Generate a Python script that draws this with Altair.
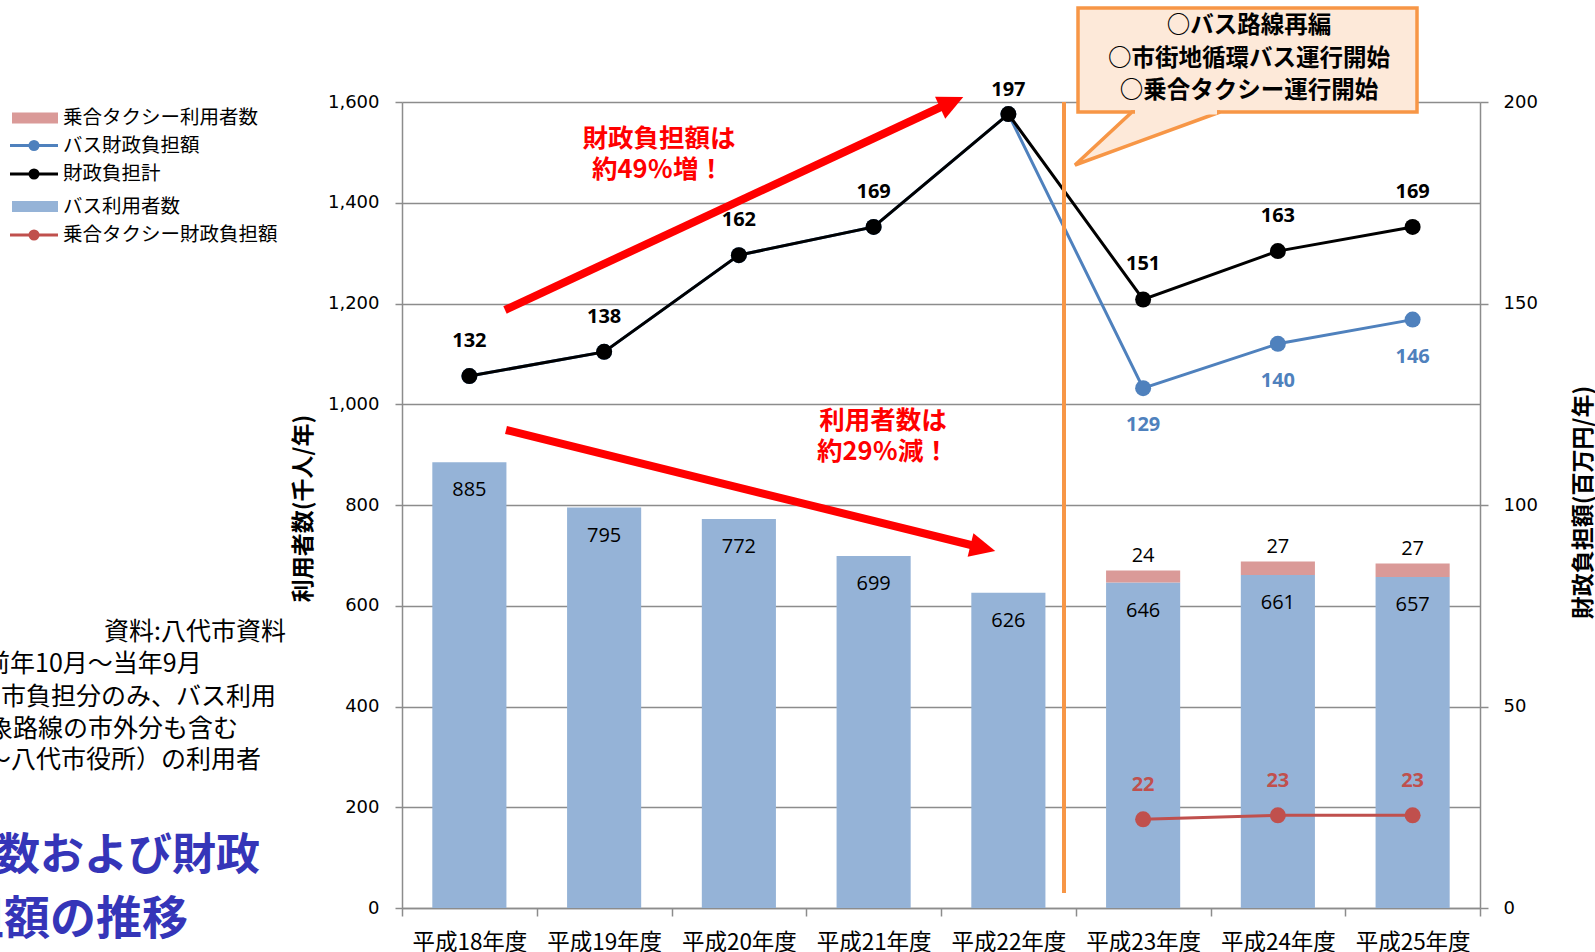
import altair as alt
import pandas as pd

# ---------------- data ----------------
years = ["平成18年度", "平成19年度", "平成20年度", "平成21年度",
         "平成22年度", "平成23年度", "平成24年度", "平成25年度"]
bus_users = [885, 795, 772, 699, 626, 646, 661, 657]
taxi_users = [None, None, None, None, None, 24, 27, 27]
bus_cost = [132, 138, 162, 169, 197, 129, 140, 146]
total_cost = [132, 138, 162, 169, 197, 151, 163, 169]
taxi_cost = [None, None, None, None, None, 22, 23, 23]

legend_labels = ["乗合タクシー利用者数", "バス財政負担額", "財政負担計",
                 "バス利用者数", "乗合タクシー財政負担額"]
callout_lines = ["○バス路線再編", "○市街地循環バス運行開始", "○乗合タクシー運行開始"]
note_right = "資料:八代市資料"
note_lines = ["前年10月～当年9月", "市負担分のみ、バス利用",
              "象路線の市外分も含む", "～八代市役所）の利用者"]
big_title = ["数および財政", "担額の推移"]
up_text = ["財政負担額は", "約49％増！"]
down_text = ["利用者数は", "約29％減！"]

df = pd.DataFrame({
    "year": years, "bus_users": bus_users, "taxi_users": taxi_users,
    "bus_cost": bus_cost, "total_cost": total_cost, "taxi_cost": taxi_cost,
})
df["stack_top"] = df["bus_users"] + df["taxi_users"]

# ---------------- style ----------------
JP = "Noto Sans CJK JP"
NUM = "Open Sans"
GRID = "#8C8C8C"
BAR_BLUE = "#95B3D7"
BAR_PINK = "#DA9A98"
LINE_BLUE = "#4F81BD"
LINE_RED = "#C0504D"
ORANGE = "#F79646"
PEACH = "#FDE9D9"

W, H = 1078, 806
PL, PT = 402, 102

xenc = alt.X("year:N", sort=years, scale=alt.Scale(paddingInner=0, paddingOuter=0),
             axis=alt.Axis(title=None, tickBand="extent", labelAngle=0, labelFont=JP,
                           labelFontSize=22.5, labelColor="black", domainColor=GRID,
                           domainWidth=1.5, tickColor=GRID, tickWidth=1.5, tickSize=8,
                           labelPadding=26, labelBaseline="middle", labelOverlap=False,
                           labelLimit=300))


def yleft(field):
    return alt.Y(f"{field}:Q", scale=alt.Scale(domain=[0, 1600], nice=False),
                 axis=alt.Axis(orient="left", values=list(range(0, 1601, 200)), format=",d",
                               grid=True, gridColor=GRID, gridWidth=1.5, domainColor=GRID,
                               domainWidth=1.5, tickColor=GRID, tickWidth=1.5, tickSize=7,
                               labelPadding=16, labelFont="DejaVu Sans", labelFontSize=18,
                               labelColor="black", title="利用者数(千人/年)", titleFont=JP,
                               titleFontSize=23, titleFontWeight="bold", titleColor="black",
                               titleAngle=270, titleX=-99, titleY=406, titleAlign="center",
                               titleBaseline="middle"))


def yright(field):
    return alt.Y(f"{field}:Q", scale=alt.Scale(domain=[0, 200], nice=False),
                 axis=alt.Axis(orient="right", values=list(range(0, 201, 50)), grid=False,
                               domainColor=GRID, domainWidth=1.5, tickColor=GRID, tickWidth=1.5,
                               tickSize=8, labelPadding=15, labelFont="DejaVu Sans",
                               labelFontSize=18, labelColor="black",
                               title="財政負担額(百万円/年)", titleFont=JP, titleFontSize=23,
                               titleFontWeight="bold", titleColor="black", titleAngle=270,
                               titleX=103, titleY=400, titleAlign="center",
                               titleBaseline="middle"))


def px(field):
    return alt.X(f"{field}:Q", scale=None, axis=None)


def py(field):
    return alt.Y(f"{field}:Q", scale=None, axis=None)


base = alt.Chart(df)
bw = alt.RelativeBandSize(0.55)

# ---------------- bars (left axis) ----------------
bars_bus = base.mark_bar(color=BAR_BLUE, width=bw).encode(x=xenc, y=yleft("bus_users"))
bars_taxi = base.mark_bar(color=BAR_PINK, width=bw).encode(
    x=xenc, y=yleft("bus_users"), y2="stack_top:Q"
).transform_filter("isValid(datum.taxi_users)")
lab_bus = base.mark_text(dy=28, font=NUM, fontSize=20, color="black").encode(
    x=xenc, y=yleft("bus_users"), text="bus_users:Q")
lab_taxi = base.mark_text(dy=-14, font=NUM, fontSize=20, color="black").encode(
    x=xenc, y=yleft("stack_top"), text="taxi_users:Q"
).transform_filter("isValid(datum.taxi_users)")
left_layer = alt.layer(bars_bus, bars_taxi, lab_bus, lab_taxi)

# ---------------- lines (right axis) ----------------
l_blue = base.mark_line(color=LINE_BLUE, strokeWidth=3).encode(x=xenc, y=yright("bus_cost"))
p_blue = base.mark_circle(color=LINE_BLUE, size=256, opacity=1).encode(x=xenc, y=yright("bus_cost"))
l_black = base.mark_line(color="black", strokeWidth=3).encode(x=xenc, y=yright("total_cost"))
p_black = base.mark_circle(color="black", size=256, opacity=1).encode(x=xenc, y=yright("total_cost"))
l_red = base.mark_line(color=LINE_RED, strokeWidth=3).encode(
    x=xenc, y=yright("taxi_cost")).transform_filter("isValid(datum.taxi_cost)")
p_red = base.mark_circle(color=LINE_RED, size=256, opacity=1).encode(
    x=xenc, y=yright("taxi_cost")).transform_filter("isValid(datum.taxi_cost)")
t_black = base.mark_text(dy=-35, font=NUM, fontSize=20, fontWeight="bold", color="black").encode(
    x=xenc, y=yright("total_cost"), text="total_cost:Q"
).transform_filter("datum.year != '平成22年度'")
t_black2 = base.mark_text(dy=-24, font=NUM, fontSize=20, fontWeight="bold", color="black").encode(
    x=xenc, y=yright("total_cost"), text="total_cost:Q"
).transform_filter("datum.year == '平成22年度'")
t_blue = base.mark_text(dy=37, font=NUM, fontSize=20, fontWeight="bold", color=LINE_BLUE).encode(
    x=xenc, y=yright("bus_cost"), text="bus_cost:Q"
).transform_filter("datum.bus_cost != datum.total_cost")
t_red = base.mark_text(dy=-34, font=NUM, fontSize=20, fontWeight="bold", color=LINE_RED).encode(
    x=xenc, y=yright("taxi_cost"), text="taxi_cost:Q"
).transform_filter("isValid(datum.taxi_cost)")
right_layer = alt.layer(l_blue, p_blue, l_black, p_black, l_red, p_red,
                        t_black, t_black2, t_blue, t_red)

# ---------------- annotations (pixel positions, plot coords) ----------------
vline = alt.Chart(pd.DataFrame({"x": [662], "y": [0], "y2": [791]})).mark_rule(
    color=ORANGE, strokeWidth=4).encode(x=px("x"), y=py("y"), y2="y2:Q")

# red arrows
arrow_df = pd.DataFrame({"x": [103, 541, 104, 571], "y": [208, 4, 328, 443.5], "a": ["u", "u", "d", "d"]})
arrows = alt.Chart(arrow_df).mark_line(color="#FF0000", strokeWidth=8).encode(
    x=px("x"), y=py("y"), detail="a:N")
head_shape = "M1,0L-1,-0.95L-1,0.95Z"
head_up = alt.Chart(pd.DataFrame({"x": [549.7], "y": [0.3]})).mark_point(
    shape=head_shape, size=650, filled=True, color="#FF0000", opacity=1, angle=335.1,
    strokeWidth=0).encode(x=px("x"), y=py("y"))
head_dn = alt.Chart(pd.DataFrame({"x": [580.9], "y": [446]})).mark_point(
    shape=head_shape, size=650, filled=True, color="#FF0000", opacity=1, angle=14.0,
    strokeWidth=0).encode(x=px("x"), y=py("y"))

red_txt = alt.Chart(pd.DataFrame({
    "x": [257, 256, 481, 481], "y": [37, 68, 319, 350], "t": up_text + down_text
})).mark_text(font=JP, fontSize=25.5, fontWeight="bold", color="#FF0000",
              baseline="middle", align="center").encode(x=px("x"), y=py("y"), text="t:N")

# callout box
box = alt.Chart(pd.DataFrame({"x": [676], "x2": [1015], "y": [-94], "y2": [10]})).mark_rect(
    fill=PEACH, stroke=ORANGE, strokeWidth=3.5).encode(x=px("x"), x2="x2:Q", y=py("y"), y2="y2:Q")
tail = alt.Chart(pd.DataFrame({"x": [673, 730, 818], "y": [63, 10, 10], "y2": [63, 42.2, 10]})).mark_area(
    fill=PEACH, stroke=ORANGE, strokeWidth=3.5, opacity=1, fillOpacity=1).encode(
    x=px("x"), y=py("y"), y2="y2:Q")
tail_cover = alt.Chart(pd.DataFrame({"x": [733], "x2": [815], "y": [10]})).mark_rule(
    color=PEACH, strokeWidth=5).encode(x=px("x"), x2="x2:Q", y=py("y"))
callout_txt = alt.Chart(pd.DataFrame({"x": [847, 847, 847], "y": [-76, -43, -11], "t": callout_lines})).mark_text(
    font=JP, fontSize=23.5, fontWeight="bold", color="black", align="center", baseline="middle").encode(
    x=px("x"), y=py("y"), text="t:N")

# legend
leg_rect = alt.Chart(pd.DataFrame({
    "x": [-390, -390], "x2": [-344, -344], "y": [10.5, 99], "y2": [21.5, 110],
    "c": [BAR_PINK, BAR_BLUE]})).mark_rect().encode(
    x=px("x"), x2="x2:Q", y=py("y"), y2="y2:Q", color=alt.Color("c:N", scale=None))
leg_line = alt.Chart(pd.DataFrame({
    "x": [-392] * 3, "x2": [-344] * 3, "y": [43.5, 72, 133],
    "c": [LINE_BLUE, "black", LINE_RED]})).mark_rule(strokeWidth=3).encode(
    x=px("x"), x2="x2:Q", y=py("y"), color=alt.Color("c:N", scale=None))
leg_pt = alt.Chart(pd.DataFrame({
    "x": [-368] * 3, "y": [43.5, 72, 133],
    "c": [LINE_BLUE, "black", LINE_RED]})).mark_circle(size=121, opacity=1).encode(
    x=px("x"), y=py("y"), color=alt.Color("c:N", scale=None))
leg_txt = alt.Chart(pd.DataFrame({
    "x": [-339] * 5, "y": [16, 43.5, 72, 104.5, 133], "t": legend_labels})).mark_text(
    font=JP, fontSize=19.5, color="black", align="left", baseline="middle").encode(
    x=px("x"), y=py("y"), text="t:N")

# notes on the left
note_a = alt.Chart(pd.DataFrame({"x": [-116], "y": [530], "t": [note_right]})).mark_text(
    font=JP, fontSize=25, color="black", align="right", baseline="middle").encode(
    x=px("x"), y=py("y"), text="t:N")
note_b = alt.Chart(pd.DataFrame({"x": [-417, -401, -414, -416], "y": [562, 595, 627, 658],
                                 "t": note_lines})).mark_text(
    font=JP, fontSize=25, color="black", align="left", baseline="middle").encode(
    x=px("x"), y=py("y"), text="t:N")
title1 = alt.Chart(pd.DataFrame({"x": [-406], "y": [755], "t": [big_title[0]]})).mark_text(
    font=JP, fontSize=44, fontWeight="bold", color="#3535B8", align="left", baseline="middle").encode(
    x=px("x"), y=py("y"), text="t:N")
title2 = alt.Chart(pd.DataFrame({"x": [-444], "y": [818], "t": [big_title[1]]})).mark_text(
    font=JP, fontSize=46, fontWeight="bold", color="#3535B8", align="left", baseline="middle").encode(
    x=px("x"), y=py("y"), text="t:N")

chart = alt.layer(
    left_layer, right_layer, vline, arrows, head_up, head_dn, red_txt,
    box, tail, tail_cover, callout_txt,
    leg_rect, leg_line, leg_pt, leg_txt, note_a, note_b, title1, title2
).resolve_scale(y="independent").properties(
    width=W, height=H,
    autosize=alt.AutoSizeParams(type="none"),
    padding={"left": PL, "top": PT, "right": 1595 - PL - W, "bottom": 952 - PT - H},
    background="white",
).configure_view(stroke=None)

chart.save("out.html", embed_options={"renderer": "svg", "actions": False})
